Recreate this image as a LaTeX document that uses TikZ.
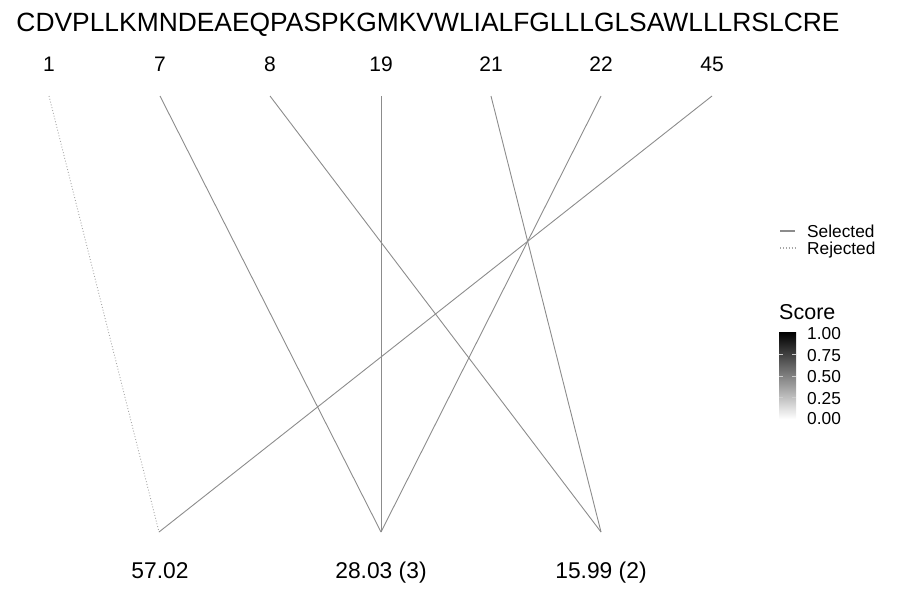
\documentclass[tikz,border=0pt]{standalone}
\usepackage{fontspec}
\setmainfont{Liberation Sans}
\begin{document}
\begin{tikzpicture}[x=1pt,y=-1pt,
  lbl/.style={inner sep=0pt,anchor=base,font=\fontsize{21}{25}\selectfont},
  blbl/.style={inner sep=0pt,anchor=base,font=\fontsize{22.8}{27}\selectfont},
  seq/.style={inner sep=0pt,anchor=base,font=\fontsize{26.4}{30}\selectfont},
  leg/.style={inner sep=0pt,anchor=base west,font=\fontsize{17.3}{20}\selectfont},
  sel/.style={draw=gray!90!white,line width=0.9pt},
  rej/.style={draw=gray!70!white,line width=0.9pt,dotted}]
\useasboundingbox (0,0) rectangle (900,600);
\node[seq] (title) at (428,31.5) {CDVPLLKMNDEAEQPASPKGMKVWLIALFGLLLGLSAWLLLRSLCRE};
% top labels
\foreach \n/\x in {1/49,7/160,8/270,19/381,21/491,22/601,45/712}{
  \node[lbl] (t\n) at (\x,71.5) {\n};
  \coordinate (a\n) at (\x,96);
}
% bottom
\coordinate (b1) at (159,532);
\coordinate (b2) at (381,532);
\coordinate (b3) at (601,532);
\node[blbl] (s1) at (160,578) {57.02};
\node[blbl] (s2) at (381,578) {28.03 (3)};
\node[blbl] (s3) at (601,578) {15.99 (2)};
% connectors
\draw[rej] (a1) -- (b1);
\draw[sel] (a7) -- (b2);
\draw[sel] (a8) -- (b3);
\draw[sel] (a19) -- (b2);
\draw[sel] (a21) -- (b3);
\draw[sel] (a22) -- (b2);
\draw[sel] (a45) -- (b1);
% legend
\coordinate (l1a) at (780,231); \coordinate (l1b) at (795,231);
\coordinate (l2a) at (780,248); \coordinate (l2b) at (795,248);
\draw[sel,line width=1.2pt] (l1a) -- (l1b);
\draw[rej,line width=1.1pt] (l2a) -- (l2b);
\node[leg] (lsel) at (807,237.5) {Selected};
\node[leg] (lrej) at (807,254.5) {Rejected};
\node[leg,font=\fontsize{21.5}{25}\selectfont] (score) at (779,319) {Score};
\shade[top color=black,bottom color=white] (779,332) rectangle (796,419);
\foreach \y/\t in {333/1.00,355/0.75,376/0.50,398/0.25,418/0.00}{
  \node[leg] (c\t) at (807,\y+6.2) {\t};
}
\foreach \y in {354,376,397}{
  \draw[gray!40!white,line width=0.6pt] (779,\y) -- (783,\y);
  \draw[gray!40!white,line width=0.6pt] (792,\y) -- (796,\y);
}
\end{tikzpicture}
\end{document}
